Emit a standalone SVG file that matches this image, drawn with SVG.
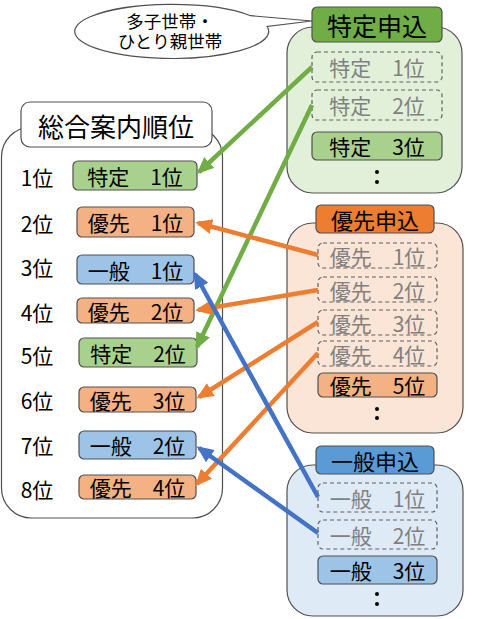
<svg xmlns="http://www.w3.org/2000/svg" width="486" height="619" viewBox="0 0 486 619">
<style>
text{font-family:"Noto Sans CJK JP","Noto Sans",sans-serif;text-anchor:middle;dominant-baseline:central;fill:#000}
.co{font-family:"Liberation Sans","Noto Sans CJK JP",sans-serif;font-size:17.5px;dominant-baseline:auto}
.box{stroke:#505050;stroke-width:1.2}
.dash{fill:none;stroke:#606060;stroke-width:1.2;stroke-dasharray:4 3}
.gray{fill:#808080}
.g{fill:#A9D18E}.o{fill:#F4B183}.b{fill:#9DC3E6}
.it{font-size:21px}
.rk{font-size:21px}
.ln{fill:none;stroke-width:4.5}
</style>
<defs>
<marker id="ag" markerUnits="userSpaceOnUse" markerWidth="18" markerHeight="16" refX="14" refY="7.5" orient="auto"><path d="M0,0 L17,7.5 L0,15 z" fill="#70AD47"/></marker>
<marker id="ao" markerUnits="userSpaceOnUse" markerWidth="18" markerHeight="16" refX="14" refY="7.5" orient="auto"><path d="M0,0 L17,7.5 L0,15 z" fill="#ED7D31"/></marker>
<marker id="ab" markerUnits="userSpaceOnUse" markerWidth="18" markerHeight="16" refX="14" refY="7.5" orient="auto"><path d="M0,0 L17,7.5 L0,15 z" fill="#4472C4"/></marker>
</defs>

<g id="callout">
<path d="M250.6,15.7 L312,21 L267.1,26.5 A97 27 0 1 1 250.6,15.7 z" fill="#fff" stroke="#505050" stroke-width="1.2"/>
<text x="170" y="28" class="co">多子世帯・</text>
<text x="170" y="48" class="co">ひとり親世帯</text>
</g>

<g id="overall">
<rect x="1.5" y="127" width="221" height="391" rx="30" fill="#fff" class="box"/>
<rect x="21" y="102" width="191" height="45" rx="9" fill="#fff" class="box"/>
<text x="116" y="125" font-size="26">総合案内順位</text>
</g>

<g id="ranks" class="rk">
<text x="37" y="177" class="rk">1位</text>
<text x="37" y="223" class="rk">2位</text>
<text x="37" y="267" class="rk">3位</text>
<text x="37" y="312" class="rk">4位</text>
<text x="37" y="355" class="rk">5位</text>
<text x="37" y="400" class="rk">6位</text>
<text x="37" y="445" class="rk">7位</text>
<text x="37" y="489" class="rk">8位</text>
</g>

<g id="r1"><rect x="73" y="161" width="124" height="29" rx="5" class="box g"/><text x="135" y="175.5" class="it">特定　1位</text></g>
<g id="r2"><rect x="77" y="207" width="117" height="30" rx="5" class="box o"/><text x="135.5" y="222" class="it">優先　1位</text></g>
<g id="r3"><rect x="77" y="255" width="117" height="29" rx="5" class="box b"/><text x="135.5" y="269.5" class="it">一般　1位</text></g>
<g id="r4"><rect x="77" y="298" width="117" height="25" rx="5" class="box o"/><text x="135.5" y="310.5" class="it">優先　2位</text></g>
<g id="r5"><rect x="79" y="338" width="118" height="29" rx="5" class="box g"/><text x="138" y="352.5" class="it">特定　2位</text></g>
<g id="r6"><rect x="79" y="387" width="117" height="25" rx="5" class="box o"/><text x="137.5" y="399.5" class="it">優先　3位</text></g>
<g id="r7"><rect x="79" y="431" width="117" height="28" rx="5" class="box b"/><text x="137.5" y="445" class="it">一般　2位</text></g>
<g id="r8"><rect x="79" y="475" width="117" height="24" rx="5" class="box o"/><text x="137.5" y="487" class="it">優先　4位</text></g>

<g id="tokutei">
<rect x="287" y="27" width="175" height="166" rx="26" fill="#E2F0D9" class="box"/>
<rect x="312" y="7" width="130" height="35" rx="5" fill="#70AD47" class="box"/>
<text x="377" y="24.5" font-size="25">特定申込</text>
<rect x="312" y="52" width="130" height="30" rx="5" class="dash"/>
<text x="377" y="67" class="it gray">特定　1位</text>
<rect x="312" y="90" width="130" height="30" rx="5" class="dash"/>
<text x="377" y="105" class="it gray">特定　2位</text>
<rect x="312" y="132" width="130" height="28" rx="5" class="box g"/>
<text x="377" y="146" class="it">特定　3位</text>
<circle cx="377" cy="172" r="2"/><circle cx="377" cy="182" r="2"/>
</g>

<g id="yusen">
<rect x="287" y="223" width="176" height="210" rx="26" fill="#FBE5D6" class="box"/>
<rect x="316" y="205" width="118" height="28" rx="5" fill="#ED7D31" class="box"/>
<text x="375" y="219" font-size="22">優先申込</text>
<rect x="318" y="243" width="119" height="25" rx="5" class="dash"/>
<text x="377.5" y="255.5" class="it gray">優先　1位</text>
<rect x="318" y="277" width="119" height="25" rx="5" class="dash"/>
<text x="377.5" y="289.5" class="it gray">優先　2位</text>
<rect x="318" y="310" width="119" height="25" rx="5" class="dash"/>
<text x="377.5" y="322.5" class="it gray">優先　3位</text>
<rect x="318" y="341" width="119" height="25" rx="5" class="dash"/>
<text x="377.5" y="353.5" class="it gray">優先　4位</text>
<rect x="318" y="373" width="119" height="24" rx="5" class="box o"/>
<text x="377.5" y="385" class="it">優先　5位</text>
<circle cx="377" cy="409" r="2"/><circle cx="377" cy="418" r="2"/>
</g>

<g id="ippan">
<rect x="287" y="465" width="176" height="151" rx="26" fill="#DEEBF7" class="box"/>
<rect x="316" y="446" width="118" height="28" rx="5" fill="#5B9BD5" class="box"/>
<text x="375" y="460" font-size="22">一般申込</text>
<rect x="318" y="483" width="119" height="29" rx="5" class="dash"/>
<text x="377.5" y="497.5" class="it gray">一般　1位</text>
<rect x="318" y="520" width="119" height="29" rx="5" class="dash"/>
<text x="377.5" y="534.5" class="it gray">一般　2位</text>
<rect x="318" y="556" width="119" height="28" rx="5" class="box b"/>
<text x="377.5" y="570" class="it">一般　3位</text>
<circle cx="377" cy="594" r="2"/><circle cx="377" cy="604" r="2"/>
</g>

<g id="connectors" class="ln">
<line x1="312" y1="67" x2="199" y2="172" stroke="#70AD47" class="ln" marker-end="url(#ag)"/>
<line x1="312" y1="105" x2="197" y2="347" stroke="#70AD47" class="ln" marker-end="url(#ag)"/>
<line x1="318" y1="255" x2="198" y2="223" stroke="#ED7D31" class="ln" marker-end="url(#ao)"/>
<line x1="318" y1="290" x2="198" y2="310" stroke="#ED7D31" class="ln" marker-end="url(#ao)"/>
<line x1="318" y1="322" x2="199" y2="397" stroke="#ED7D31" class="ln" marker-end="url(#ao)"/>
<line x1="318" y1="353" x2="197" y2="484" stroke="#ED7D31" class="ln" marker-end="url(#ao)"/>
<line x1="318" y1="497" x2="195" y2="274" stroke="#4472C4" class="ln" marker-end="url(#ab)"/>
<line x1="318" y1="533" x2="199" y2="448" stroke="#4472C4" class="ln" marker-end="url(#ab)"/>
</g>
</svg>
